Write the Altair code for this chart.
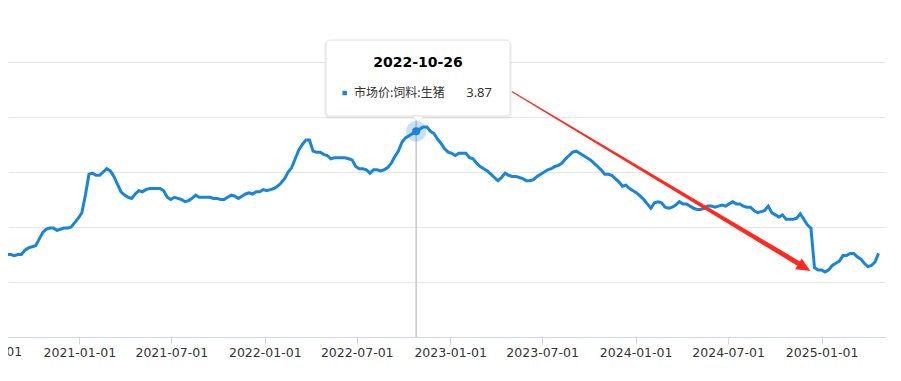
import altair as alt
import pandas as pd

# ---------------- data ----------------
series_name = ["市场价:饲料:生猪"]
start_date = "2020-07-29"  # weekly observations (Wednesdays)
values = [
    2.74, 2.78, 2.75, 2.75, 2.74, 2.75, 2.75, 2.79, 2.81, 2.82,
    2.83, 2.89, 2.95, 2.98, 2.99, 2.99, 2.97, 2.98, 2.99, 2.99,
    3.00, 3.04, 3.08, 3.13, 3.29, 3.48, 3.49, 3.47, 3.47, 3.50,
    3.53, 3.51, 3.46, 3.39, 3.32, 3.29, 3.27, 3.26, 3.30, 3.33,
    3.32, 3.34, 3.35, 3.35, 3.35, 3.35, 3.33, 3.27, 3.25, 3.27,
    3.26, 3.25, 3.23, 3.24, 3.26, 3.29, 3.27, 3.27, 3.27, 3.27,
    3.26, 3.26, 3.25, 3.25, 3.27, 3.29, 3.28, 3.26, 3.28, 3.30,
    3.31, 3.30, 3.32, 3.32, 3.34, 3.33, 3.34, 3.35, 3.37, 3.40,
    3.44, 3.50, 3.54, 3.62, 3.70, 3.75, 3.79, 3.79, 3.69, 3.68,
    3.68, 3.66, 3.65, 3.62, 3.63, 3.63, 3.63, 3.63, 3.62, 3.61,
    3.55, 3.53, 3.53, 3.52, 3.49, 3.52, 3.52, 3.51, 3.52, 3.54,
    3.58, 3.64, 3.69, 3.77, 3.81, 3.83, 3.85, 3.87, 3.89, 3.91,
    3.91, 3.87, 3.85, 3.80, 3.76, 3.71, 3.68, 3.67, 3.65, 3.67,
    3.67, 3.67, 3.63, 3.62, 3.58, 3.55, 3.53, 3.51, 3.48, 3.45,
    3.42, 3.45, 3.49, 3.47, 3.46, 3.46, 3.45, 3.44, 3.42, 3.42,
    3.43, 3.46, 3.48, 3.50, 3.52, 3.53, 3.55, 3.56, 3.58, 3.62,
    3.65, 3.68, 3.69, 3.67, 3.65, 3.63, 3.61, 3.58, 3.55, 3.52,
    3.48, 3.48, 3.47, 3.44, 3.41, 3.37, 3.38, 3.35, 3.33, 3.31,
    3.28, 3.25, 3.21, 3.17, 3.22, 3.23, 3.22, 3.18, 3.17, 3.18,
    3.20, 3.23, 3.21, 3.21, 3.19, 3.17, 3.16, 3.16, 3.17, 3.19,
    3.19, 3.18, 3.19, 3.20, 3.19, 3.21, 3.23, 3.21, 3.21, 3.19,
    3.18, 3.18, 3.15, 3.13, 3.14, 3.15, 3.19, 3.13, 3.11, 3.09,
    3.11, 3.07, 3.07, 3.07, 3.08, 3.12, 3.07, 3.02, 2.99, 2.63,
    2.61, 2.61, 2.59, 2.61, 2.65, 2.67, 2.69, 2.74, 2.74, 2.76,
    2.76, 2.73, 2.71, 2.67, 2.64, 2.65, 2.68, 2.76,
]
dates = pd.date_range(start_date, periods=len(values), freq="7D").strftime("%Y-%m-%d").tolist()

hover_date = ["2022-10-26"]
hover_value = [3.87]

tick_years_months = [(2021, 1), (2021, 7), (2022, 1), (2022, 7), (2023, 1),
                     (2023, 7), (2024, 1), (2024, 7), (2025, 1)]
cut_label_date = ["2020-07-01"]

arrow_dates = ["2023-05-03", "2024-11-16"]
arrow_values = [4.23, 2.67]
arrow_widths = [1.0, 5.0]
arrow_tip_date = ["2024-12-10"]
arrow_tip_value = [2.60]

grid_values = [2.0, 2.5, 3.0, 3.5, 4.0, 4.5]

# ---------------- styling ----------------
BLUE = "#1a85d6"
RED = "#ff2a1f"
W, H = 877, 275

series = pd.DataFrame({"date": dates, "value": values})
hover_df = pd.DataFrame({"date": hover_date, "value": hover_value,
                         "dlabel": hover_date,
                         "name": series_name,
                         "vtxt": [f"{v:.2f}" for v in hover_value]})
arrow_df = pd.DataFrame({"date": arrow_dates, "value": arrow_values,
                         "w": arrow_widths, "o": list(range(len(arrow_dates)))})
tip_df = pd.DataFrame({"date": arrow_tip_date, "value": arrow_tip_value})
cut_df = pd.DataFrame({"date": cut_label_date, "lbl": cut_label_date})

xscale = alt.Scale(
    type="utc",
    domain=[alt.DateTime(year=2020, month=8, date=13, hours=14, minutes=24, utc=True),
            alt.DateTime(year=2025, month=5, date=5, hours=19, utc=True)],
)
yscale = alt.Scale(domain=[2, 4.5], nice=False, zero=False)

x_axis = alt.Axis(
    values=[alt.DateTime(year=y, month=m, date=1, utc=True) for y, m in tick_years_months],
    format="%Y-%m-%d", title=None, grid=False,
    domainColor="#ccd6eb", domainWidth=1, tickColor="#ccd6eb", tickSize=7,
    labelPadding=2, labelFont="DejaVu Sans", labelFontSize=12.5, labelColor="#333333",
    labelFlush=False, labelOverlap=False,
)
y_axis = alt.Axis(values=grid_values, grid=True, gridColor="#e6e6e6", gridWidth=1,
                  labels=False, domain=False, ticks=False, title=None)

X = alt.X("date:T", scale=xscale, axis=x_axis)
Y = alt.Y("value:Q", scale=yscale, axis=y_axis)

line = alt.Chart(series).mark_line(color=BLUE, strokeWidth=3, clip=True).encode(x=X, y=Y)

cut_label = alt.Chart(cut_df).mark_text(
    font="DejaVu Sans", fontSize=12.5, color="#333333", baseline="top", align="center"
).encode(x=X, y=alt.value(H + 9), text=alt.Text("lbl:N"))

rule = alt.Chart(hover_df).mark_rule(color="#c8c8c8", strokeWidth=1.5).encode(
    x=X, y=alt.value(0), y2=alt.value(H)
)
halo = alt.Chart(hover_df).mark_circle(size=420, color=BLUE, opacity=0.25).encode(x=X, y=Y)
dot = alt.Chart(hover_df).mark_circle(size=64, color=BLUE, opacity=1).encode(x=X, y=Y)

trail = alt.Chart(arrow_df).mark_trail(color=RED).encode(
    x=X, y=Y, size=alt.Size("w:Q", scale=None, legend=None), order="o:Q"
)
head = alt.Chart(tip_df).mark_point(
    shape="M0,0L-2,-0.9L-2,0.9Z", size=196, angle=31, filled=True,
    color=RED, opacity=1, strokeWidth=0
).encode(x=X, y=Y)

# tooltip overlay
shadow = alt.Chart(hover_df).mark_rect(fill="#000000", opacity=0.05, cornerRadius=5).encode(
    x=alt.value(316), x2=alt.value(504), y=alt.value(-21), y2=alt.value(57)
)
box = alt.Chart(hover_df).mark_rect(fill="white", stroke="#e2e2e2", strokeWidth=1, cornerRadius=4).encode(
    x=alt.value(318), x2=alt.value(502), y=alt.value(-22), y2=alt.value(54)
)
pointer = alt.Chart(hover_df).mark_point(
    shape="M-1,0L1,0L0,1Z", size=144, filled=True, fill="white",
    stroke="#e2e2e2", strokeWidth=1, opacity=1
).encode(x=alt.value(410), y=alt.value(54))
title_txt = alt.Chart(hover_df).mark_text(
    font="DejaVu Sans", fontSize=14, fontWeight="bold", color="#000000",
    align="center", baseline="middle"
).encode(x=alt.value(410), y=alt.value(1), text=alt.Text("dlabel:N"))
legend_sq = alt.Chart(hover_df).mark_square(size=20, color=BLUE, opacity=1).encode(
    x=alt.value(336.7), y=alt.value(31)
)
name_txt = alt.Chart(hover_df).mark_text(
    font="Noto Sans CJK SC", fontSize=12, color="#333333", align="left", baseline="middle"
).encode(x=alt.value(346), y=alt.value(31), text=alt.Text("name:N"))
val_txt = alt.Chart(hover_df).mark_text(
    font="Noto Sans", fontSize=13, color="#333333", align="right", baseline="middle"
).encode(x=alt.value(484), y=alt.value(31), text=alt.Text("vtxt:N"))

chart = alt.layer(
    line, cut_label, rule, halo, dot, trail, head,
    shadow, box, pointer, title_txt, legend_sq, name_txt, val_txt
).properties(
    width=W, height=H,
    autosize=alt.AutoSizeParams(type="none"),
    padding={"left": 0, "top": 54, "right": 8, "bottom": 30},
).configure(background="white").configure_view(strokeWidth=0, stroke="transparent")

chart.save("out.html", embed_options={"renderer": "svg", "actions": False})
